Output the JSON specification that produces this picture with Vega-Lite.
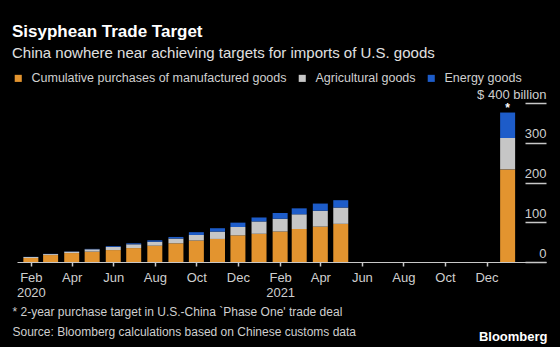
{
  "$schema": "https://vega.github.io/schema/vega-lite/v6.json",
  "width": 529,
  "height": 159,
  "autosize": "none",
  "padding": {"left": 17, "top": 103, "right": 14, "bottom": 85},
  "background": "#000000",
  "config": {"view": {"stroke": null}, "font": "Liberation Sans"},
  "title": {
    "text": "Sisyphean Trade Target",
    "subtitle": "China nowhere near achieving targets for imports of U.S. goods",
    "anchor": "start",
    "frame": "group",
    "dx": -5,
    "dy": -10,
    "fontSize": 17,
    "fontWeight": "bold",
    "color": "#ffffff",
    "subtitleFontSize": 15,
    "subtitleColor": "#e0e0e0",
    "subtitlePadding": 5,
    "offset": 0
  },
  "encoding": {
    "x": {
      "field": "date",
      "type": "temporal",
      "scale": {
        "type": "utc",
        "domain": [
          {"year": 2020, "month": 1, "date": 19, "utc": true},
          {"year": 2022, "month": 2, "date": 19, "utc": true}
        ]
      },
      "axis": {
        "values": [
          {"year": 2020, "month": 2, "date": 1, "utc": true},
          {"year": 2020, "month": 4, "date": 1, "utc": true},
          {"year": 2020, "month": 6, "date": 1, "utc": true},
          {"year": 2020, "month": 8, "date": 1, "utc": true},
          {"year": 2020, "month": 10, "date": 1, "utc": true},
          {"year": 2020, "month": 12, "date": 1, "utc": true},
          {"year": 2021, "month": 2, "date": 1, "utc": true},
          {"year": 2021, "month": 4, "date": 1, "utc": true},
          {"year": 2021, "month": 6, "date": 1, "utc": true},
          {"year": 2021, "month": 8, "date": 1, "utc": true},
          {"year": 2021, "month": 10, "date": 1, "utc": true},
          {"year": 2021, "month": 12, "date": 1, "utc": true}
        ],
        "labelExpr": "utcmonth(datum.value) == 1 && utcyear(datum.value) < 2022 ? [utcFormat(datum.value, '%b'), utcFormat(datum.value, '%Y')] : utcFormat(datum.value, '%b')",
        "grid": false,
        "ticks": true,
        "domainColor": "#c8c8c8",
        "domainWidth": 1.2,
        "tickColor": "#c8c8c8",
        "tickWidth": 1.5,
        "tickSize": 4,
        "labelColor": "#cfcfcf",
        "labelFontSize": 13,
        "labelPadding": 5,
        "labelLineHeight": 15,
        "labelFlush": false,
        "labelOverlap": false,
        "title": ["* 2-year purchase target in U.S.-China `Phase One' trade deal", "Source: Bloomberg calculations based on Chinese customs data"],
        "titleX": -5,
        "titleY": 53,
        "titleAlign": "left",
        "titleAnchor": "start",
        "titleBaseline": "alphabetic",
        "titleFontWeight": "normal",
        "titleColor": "#cfcfcf",
        "titleFontSize": 12,
        "titleLineHeight": 20
      }
    },
    "y": {
      "field": "value",
      "type": "quantitative",
      "stack": "zero",
      "scale": {"domain": [0, 400]},
      "axis": {
        "orient": "right",
        "offset": -21,
        "values": [0, 100, 200, 300, 400],
        "grid": false,
        "domain": false,
        "ticks": true,
        "tickSize": 21,
        "tickWidth": 1.5,
        "tickColor": "#c8c8c8",
        "labelAlign": "right",
        "labelBaseline": "alphabetic",
        "labelOffset": -5,
        "labelPadding": 0,
        "labelFlush": false,
        "labelOverlap": false,
        "labelColor": "#cfcfcf",
        "labelFontSize": 13,
        "labelExpr": "datum.value == 400 ? '$ 400  billion' : datum.label",
        "title": "Bloomberg",
        "titleAngle": 0,
        "titleX": 22,
        "titleY": 237,
        "titleAlign": "right",
        "titleBaseline": "alphabetic",
        "titleColor": "#ffffff",
        "titleFontWeight": "bold",
        "titleFontSize": 13
      }
    }
  },
  "layer": [
    {
      "data": {
        "values": [
          {"date": "2020-02-01", "category": "Cumulative purchases of manufactured goods", "seq": 1, "value": 10},
          {"date": "2020-02-01", "category": "Agricultural goods", "seq": 2, "value": 2.5},
          {"date": "2020-02-01", "category": "Energy goods", "seq": 3, "value": 0.5},
          {"date": "2020-03-01", "category": "Cumulative purchases of manufactured goods", "seq": 1, "value": 17.5},
          {"date": "2020-03-01", "category": "Agricultural goods", "seq": 2, "value": 2.5},
          {"date": "2020-03-01", "category": "Energy goods", "seq": 3, "value": 0.5},
          {"date": "2020-04-01", "category": "Cumulative purchases of manufactured goods", "seq": 1, "value": 22.5},
          {"date": "2020-04-01", "category": "Agricultural goods", "seq": 2, "value": 3.5},
          {"date": "2020-04-01", "category": "Energy goods", "seq": 3, "value": 0.5},
          {"date": "2020-05-01", "category": "Cumulative purchases of manufactured goods", "seq": 1, "value": 26},
          {"date": "2020-05-01", "category": "Agricultural goods", "seq": 2, "value": 6},
          {"date": "2020-05-01", "category": "Energy goods", "seq": 3, "value": 1},
          {"date": "2020-06-01", "category": "Cumulative purchases of manufactured goods", "seq": 1, "value": 30},
          {"date": "2020-06-01", "category": "Agricultural goods", "seq": 2, "value": 8},
          {"date": "2020-06-01", "category": "Energy goods", "seq": 3, "value": 2},
          {"date": "2020-07-01", "category": "Cumulative purchases of manufactured goods", "seq": 1, "value": 35},
          {"date": "2020-07-01", "category": "Agricultural goods", "seq": 2, "value": 9.5},
          {"date": "2020-07-01", "category": "Energy goods", "seq": 3, "value": 2.5},
          {"date": "2020-08-01", "category": "Cumulative purchases of manufactured goods", "seq": 1, "value": 41},
          {"date": "2020-08-01", "category": "Agricultural goods", "seq": 2, "value": 10},
          {"date": "2020-08-01", "category": "Energy goods", "seq": 3, "value": 3.5},
          {"date": "2020-09-01", "category": "Cumulative purchases of manufactured goods", "seq": 1, "value": 47},
          {"date": "2020-09-01", "category": "Agricultural goods", "seq": 2, "value": 12},
          {"date": "2020-09-01", "category": "Energy goods", "seq": 3, "value": 4},
          {"date": "2020-10-01", "category": "Cumulative purchases of manufactured goods", "seq": 1, "value": 54},
          {"date": "2020-10-01", "category": "Agricultural goods", "seq": 2, "value": 14},
          {"date": "2020-10-01", "category": "Energy goods", "seq": 3, "value": 7},
          {"date": "2020-11-01", "category": "Cumulative purchases of manufactured goods", "seq": 1, "value": 58},
          {"date": "2020-11-01", "category": "Agricultural goods", "seq": 2, "value": 18.5},
          {"date": "2020-11-01", "category": "Energy goods", "seq": 3, "value": 8.5},
          {"date": "2020-12-01", "category": "Cumulative purchases of manufactured goods", "seq": 1, "value": 67},
          {"date": "2020-12-01", "category": "Agricultural goods", "seq": 2, "value": 21},
          {"date": "2020-12-01", "category": "Energy goods", "seq": 3, "value": 11},
          {"date": "2021-01-01", "category": "Cumulative purchases of manufactured goods", "seq": 1, "value": 71},
          {"date": "2021-01-01", "category": "Agricultural goods", "seq": 2, "value": 31},
          {"date": "2021-01-01", "category": "Energy goods", "seq": 3, "value": 10},
          {"date": "2021-02-01", "category": "Cumulative purchases of manufactured goods", "seq": 1, "value": 77},
          {"date": "2021-02-01", "category": "Agricultural goods", "seq": 2, "value": 32},
          {"date": "2021-02-01", "category": "Energy goods", "seq": 3, "value": 14},
          {"date": "2021-03-01", "category": "Cumulative purchases of manufactured goods", "seq": 1, "value": 83},
          {"date": "2021-03-01", "category": "Agricultural goods", "seq": 2, "value": 37},
          {"date": "2021-03-01", "category": "Energy goods", "seq": 3, "value": 15},
          {"date": "2021-04-01", "category": "Cumulative purchases of manufactured goods", "seq": 1, "value": 89},
          {"date": "2021-04-01", "category": "Agricultural goods", "seq": 2, "value": 40},
          {"date": "2021-04-01", "category": "Energy goods", "seq": 3, "value": 18},
          {"date": "2021-05-01", "category": "Cumulative purchases of manufactured goods", "seq": 1, "value": 96},
          {"date": "2021-05-01", "category": "Agricultural goods", "seq": 2, "value": 41},
          {"date": "2021-05-01", "category": "Energy goods", "seq": 3, "value": 18.5},
          {"date": "2022-01-01", "category": "Cumulative purchases of manufactured goods", "seq": 1, "value": 233},
          {"date": "2022-01-01", "category": "Agricultural goods", "seq": 2, "value": 79},
          {"date": "2022-01-01", "category": "Energy goods", "seq": 3, "value": 64}
        ]
      },
      "mark": {"type": "bar", "width": 15},
      "encoding": {
        "color": {
          "field": "category",
          "type": "nominal",
          "sort": ["Cumulative purchases of manufactured goods", "Agricultural goods", "Energy goods"],
          "scale": {
            "domain": ["Cumulative purchases of manufactured goods", "Agricultural goods", "Energy goods"],
            "range": ["#e3942f", "#c6c6c6", "#1d5cc9"]
          },
          "legend": {
            "orient": "none",
            "legendX": -5,
            "legendY": -31,
            "direction": "horizontal",
            "title": null,
            "symbolType": "square",
            "symbolSize": 50,
            "symbolStrokeWidth": 0,
            "symbolOpacity": 1,
            "labelColor": "#d0d0d0",
            "labelFontSize": 12.5,
            "labelLimit": 0,
            "labelOffset": 7,
            "columnPadding": 9
          }
        },
        "order": {"field": "seq", "type": "quantitative"}
      }
    },
    {
      "data": {"values": [{"date": "2022-01-01", "value": 376, "note": "*"}]},
      "mark": {"type": "text", "color": "#ffffff", "fontSize": 12, "fontWeight": "bold", "baseline": "alphabetic", "dy": -1},
      "encoding": {
        "text": {"field": "note"}
      }
    }
  ]
}
